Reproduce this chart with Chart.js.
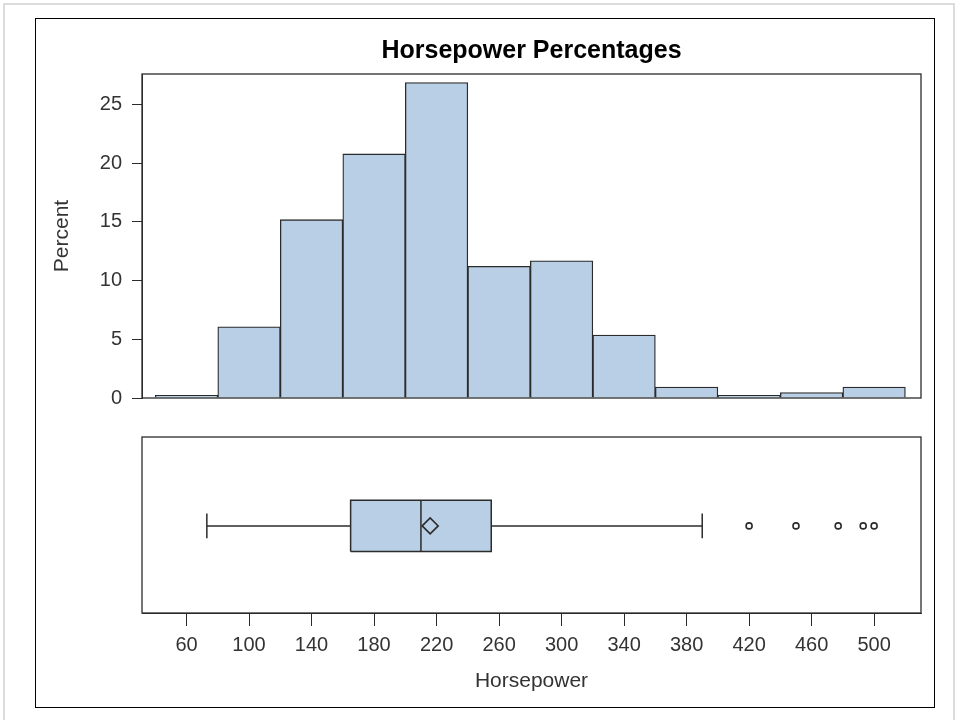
<!DOCTYPE html>
<html>
<head>
<meta charset="utf-8">
<script src="https://cdn.jsdelivr.net/npm/chart.js@4/dist/chart.umd.min.js"></script>
<style>
 body{margin:0;background:#fff;}
 #page{position:relative;width:960px;height:720px;overflow:hidden;}
 #outer{position:absolute;left:3px;top:3px;width:952px;height:800px;border:2px solid #dcdcdc;box-sizing:border-box;}
 #frame{position:absolute;left:35px;top:18px;width:900px;height:690px;border:1.5px solid #000;box-sizing:border-box;}
 canvas{position:absolute;}
 #histChart{left:36px;top:19px;}
 #boxChart{left:36px;top:420px;}
</style>
</head>
<body>
<div id="page">
 <div id="outer"></div>
 <div id="frame"></div>
 <canvas id="histChart" width="897" height="401"></canvas>
 <canvas id="boxChart" width="897" height="287"></canvas>
</div>
<script>
// histogram bins (left edge) and percent of cars in each bin
const binStarts=[40,80,120,160,200,240,280,320,360,400,440,480];
const binWidth=40;
const percents=[0.23,6.07,15.19,20.79,26.87,11.21,11.68,5.37,0.93,0.23,0.47,0.93];
const yTicks=[0,5,10,15,20,25];
const xTicks=[60,100,140,180,220,260,300,340,380,420,460,500];
// box plot: low whisker, Q1, median, Q3, high whisker
const boxStats=[73,165,210,255,390];
const meanHP=[215.9];
const outliers=[420,450,477,493,500];

const xMin=31.5,xMax=530;
const fill="#b9cfe6";
const edge="#2b2b2b";
const FONT="'Liberation Sans', Arial, sans-serif";
Chart.defaults.font.family=FONT;

const framePlugin={
 id:"frame",
 afterDraw(c){
  const a=c.chartArea,ctx=c.ctx;
  ctx.save();
  ctx.strokeStyle=edge;
  ctx.lineWidth=1.3;
  ctx.strokeRect(a.left,a.top,a.right-a.left,a.bottom-a.top);
  ctx.restore();
 }
};

new Chart(document.getElementById("histChart"),{
 type:"bar",
 data:{datasets:[{
  data:binStarts.map((s,i)=>({x:s+binWidth/2,y:percents[i]})),
  backgroundColor:fill,borderColor:edge,borderWidth:1.3,
  barPercentage:1,categoryPercentage:1
 }]},
 options:{
  responsive:false,animation:false,
  layout:{padding:{top:0,right:12,bottom:13,left:0}},
  plugins:{
   legend:{display:false},tooltip:{enabled:false},
   title:{display:true,text:"Horsepower Percentages",fullSize:false,color:"#000",
    font:{size:25,weight:"bold"},padding:{top:17,bottom:8}}
  },
  scales:{
   x:{type:"linear",min:xMin,max:xMax,offset:false,display:false,
    afterBuildTicks:s=>{s.ticks=binStarts.map(v=>({value:v}));}},
   y:{min:0,max:27.6,
    afterBuildTicks:s=>{s.ticks=yTicks.map(v=>({value:v}));},
    afterFit:s=>{s.width=106;},
    grid:{drawOnChartArea:false,tickLength:10,color:edge},
    border:{color:edge},
    ticks:{padding:10,color:"#333",font:{size:20}},
    title:{display:true,text:"Percent",color:"#333",font:{size:21},padding:{top:13.4,bottom:0}}
   }
  }
 },
 plugins:[framePlugin]
});

const [lo,q1,med,q3,hi]=boxStats;
const boxLo=0.35,boxHi=0.64,mid=0.495,capLo=0.425,capHi=0.565;
const seg=(x1,y1,x2,y2)=>({type:"line",order:0,data:[{x:x1,y:y1},{x:x2,y:y2}],borderColor:edge,borderWidth:1.5,pointRadius:0,fill:false});

new Chart(document.getElementById("boxChart"),{
 type:"scatter",
 data:{datasets:[
  {type:"line",order:5,data:[{x:q1,y:boxLo},{x:q3,y:boxLo},{x:q3,y:boxHi},{x:q1,y:boxHi},{x:q1,y:boxLo}],
   fill:"shape",backgroundColor:fill,borderColor:edge,borderWidth:1.5,pointRadius:0},
  seg(med,boxLo,med,boxHi),
  seg(lo,mid,q1,mid),
  seg(q3,mid,hi,mid),
  seg(lo,capLo,lo,capHi),
  seg(hi,capLo,hi,capHi),
  {order:0,data:meanHP.map(v=>({x:v,y:mid})),pointStyle:"rectRot",pointRadius:8,
   pointBackgroundColor:"rgba(0,0,0,0)",pointBorderColor:edge,pointBorderWidth:1.6},
  {order:0,data:outliers.map(v=>({x:v,y:mid})),pointStyle:"circle",pointRadius:3,
   pointBackgroundColor:"#fff",pointBorderColor:edge,pointBorderWidth:1.6}
 ]},
 options:{
  responsive:false,animation:false,
  layout:{padding:{top:17,right:12,bottom:0,left:106}},
  plugins:{legend:{display:false},tooltip:{enabled:false}},
  scales:{
   x:{type:"linear",min:xMin,max:xMax,
    afterBuildTicks:s=>{s.ticks=xTicks.map(v=>({value:v}));},
    afterFit:s=>{s.height=94;},
    grid:{drawOnChartArea:false,tickLength:13,color:edge},
    border:{color:edge},
    ticks:{padding:7,color:"#333",font:{size:20},maxRotation:0,autoSkip:false},
    title:{display:true,text:"Horsepower",color:"#333",font:{size:21},padding:{top:13,bottom:13}}
   },
   y:{min:0,max:1,display:false}
  }
 },
 plugins:[framePlugin]
});
</script>
</body>
</html>
